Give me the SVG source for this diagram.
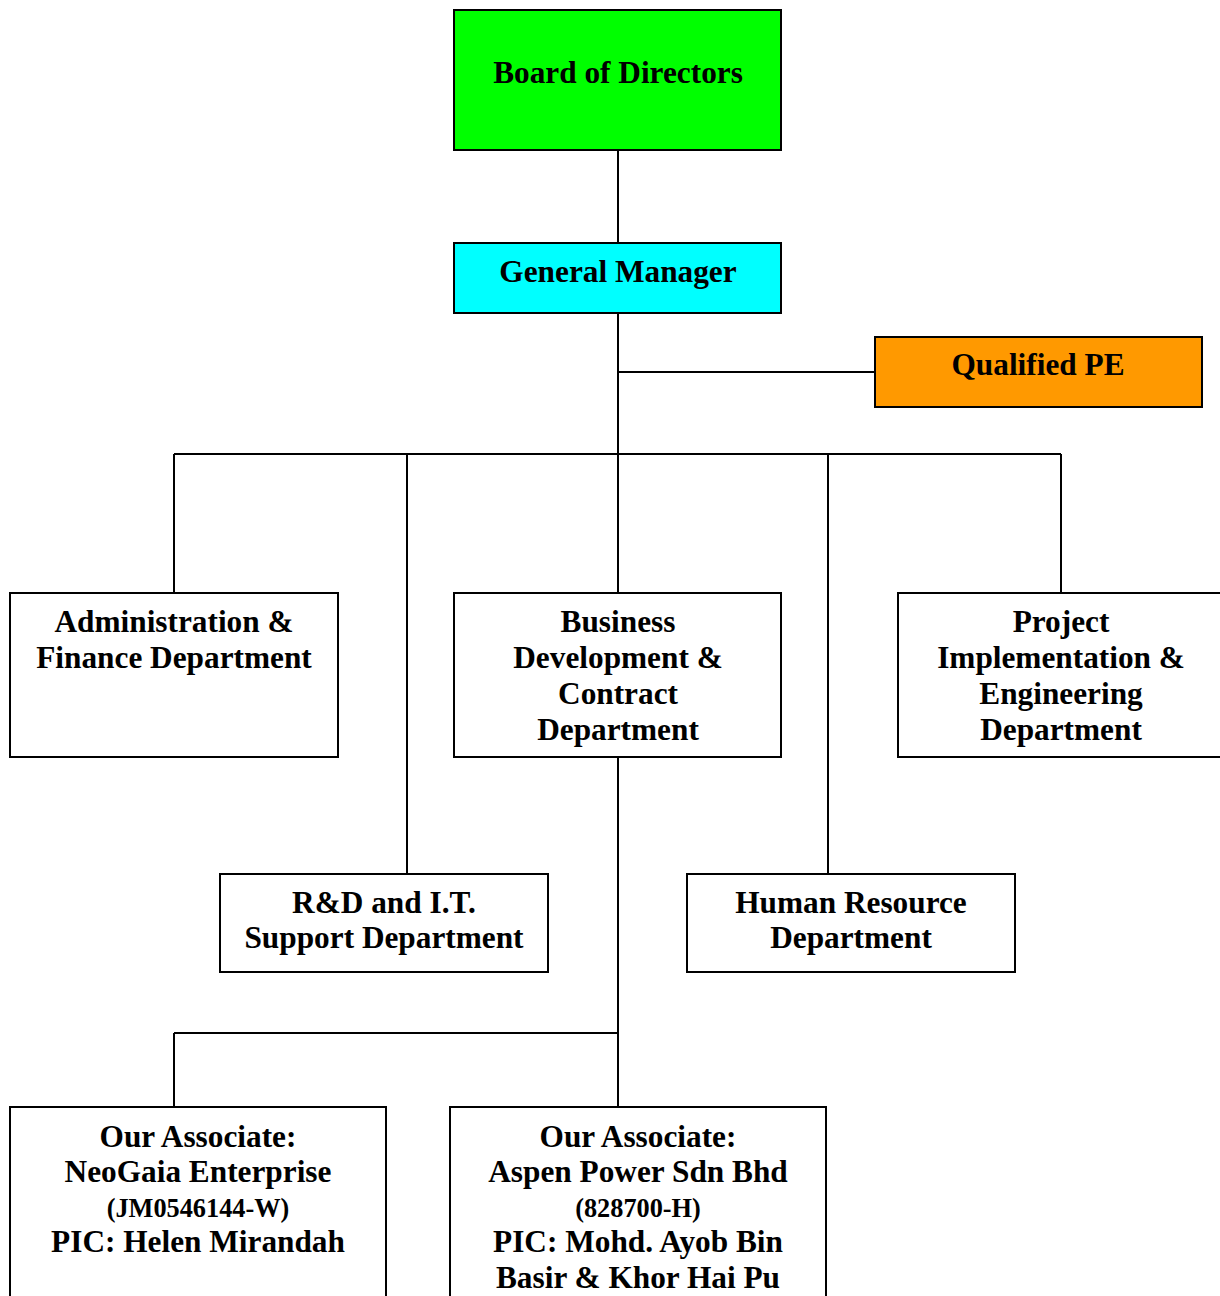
<svg xmlns="http://www.w3.org/2000/svg" width="1220" height="1296" viewBox="0 0 1220 1296">
<style>
.box{stroke:#000;stroke-width:2;fill:#fff}
.t{font-family:"Liberation Serif","Times New Roman",serif;font-weight:bold;font-size:31.3px;text-anchor:middle;fill:#000}
.s{font-size:26.3px}
.c{stroke:#000;stroke-width:2;fill:none}
</style>
<rect width="1220" height="1296" fill="#fff"/>
<g id="connectors">
<path class="c" d="M618 150V243M618 313V593M618 372H875M174 454H1061M174 454V593M407 454V874M828 454V874M1061 454V593M618 757V1107M174 1033H618M174 1033V1107"/>
</g>
<g id="board"><rect class="box" x="454" y="10" width="327" height="140" style="fill:#00ff00"/><text class="t" x="618" y="83">Board of Directors</text></g>
<g id="gm"><rect class="box" x="454" y="243" width="327" height="70" style="fill:#00ffff"/><text class="t" x="618" y="282">General Manager</text></g>
<g id="pe"><rect class="box" x="875" y="337" width="327" height="70" style="fill:#ff9900"/><text class="t" x="1038" y="375">Qualified PE</text></g>
<g id="admin"><rect class="box" x="10" y="593" width="328" height="164"/><text class="t" x="174" y="632">Administration &amp;</text><text class="t" x="174" y="668">Finance Department</text></g>
<g id="bizdev"><rect class="box" x="454" y="593" width="327" height="164"/><text class="t" x="618" y="632">Business</text><text class="t" x="618" y="668">Development &amp;</text><text class="t" x="618" y="704">Contract</text><text class="t" x="618" y="740">Department</text></g>
<g id="project"><rect class="box" x="898" y="593" width="327" height="164"/><text class="t" x="1061" y="632">Project</text><text class="t" x="1061" y="668">Implementation &amp;</text><text class="t" x="1061" y="704">Engineering</text><text class="t" x="1061" y="740">Department</text></g>
<g id="rnd"><rect class="box" x="220" y="874" width="328" height="98"/><text class="t" x="384" y="913">R&amp;D and I.T.</text><text class="t" x="384" y="948">Support Department</text></g>
<g id="hr"><rect class="box" x="687" y="874" width="328" height="98"/><text class="t" x="851" y="913">Human Resource</text><text class="t" x="851" y="948">Department</text></g>
<g id="neogaia"><rect class="box" x="10" y="1107" width="376" height="200"/><text class="t" x="198" y="1147">Our Associate:</text><text class="t" x="198" y="1182">NeoGaia Enterprise</text><text class="t s" x="198" y="1217">(JM0546144-W)</text><text class="t" x="198" y="1252">PIC: Helen Mirandah</text></g>
<g id="aspen"><rect class="box" x="450" y="1107" width="376" height="200"/><text class="t" x="638" y="1147">Our Associate:</text><text class="t" x="638" y="1182">Aspen Power Sdn Bhd</text><text class="t s" x="638" y="1217">(828700-H)</text><text class="t" x="638" y="1252">PIC: Mohd. Ayob Bin</text><text class="t" x="638" y="1288">Basir &amp; Khor Hai Pu</text></g>
</svg>
